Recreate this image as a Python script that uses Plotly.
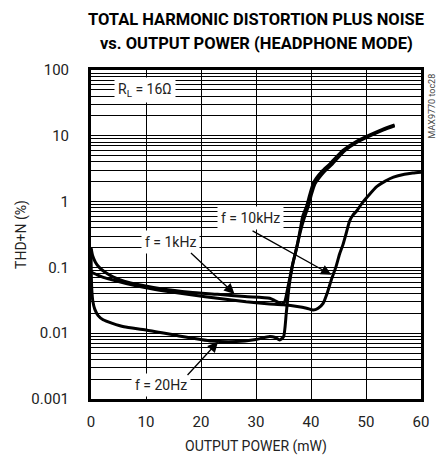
import numpy as np
import plotly.graph_objects as go

# ---- data ----
p_20hz = [0, 0.05, 0.15, 0.35, 0.7, 1.3, 2.2, 3.9, 6, 10, 16, 22, 25, 28, 30, 32.5, 33.5, 34.3, 35.0,
          35.5, 36.0, 36.7, 37.4, 38.1, 38.8, 39.5, 40.1, 40.7, 41.4, 42.4, 43.9, 46.1, 48.3, 51.0, 53.2, 55.2]
thd_20hz = [0.19, 0.08, 0.045, 0.03, 0.023, 0.0185, 0.016, 0.0141, 0.0125, 0.0112, 0.0091, 0.0076, 0.0074,
            0.0076, 0.008, 0.0089, 0.0086, 0.0079, 0.0088,
            0.02, 0.05, 0.115, 0.2, 0.36, 0.57, 0.85, 1.3, 1.85, 2.25, 2.85, 3.75, 5.9, 7.9, 10.2, 12.3, 14.2]

p_1khz = [0, 0.3, 0.8, 1.5, 2.5, 4, 6, 9, 13, 18, 23, 28, 32.5, 33.5, 34.6, 35.2, 35.8, 36.3, 36.7,
          37.2, 37.6, 38.1, 38.5, 39.2, 39.8, 40.4, 41.0, 42.0, 43.5, 45.8, 48.0, 50.7, 53.0, 55.2]
thd_1khz = [0.2, 0.15, 0.12, 0.1, 0.085, 0.072, 0.062, 0.054, 0.047, 0.042, 0.039, 0.036, 0.034, 0.031,
            0.028, 0.03, 0.05, 0.08, 0.115, 0.17, 0.24, 0.4, 0.6, 0.85, 1.3, 1.9, 2.3, 2.9, 3.8, 6.0, 8.0,
            10.3, 12.5, 14.6]

p_10khz = [0, 1, 2, 3.5, 6.4, 10, 14, 18.5, 23, 28.2, 32, 35, 37.5, 39.2, 40.4, 41.3, 42.2, 43.0, 43.7,
           44.5, 45.2, 45.8, 46.4, 47.0, 47.6, 48.3, 49.3, 50.5, 52.0, 53.5, 55.0, 57.0, 58.5, 60.0]
thd_10khz = [0.085, 0.078, 0.072, 0.066, 0.057, 0.049, 0.043, 0.038, 0.034, 0.030, 0.028, 0.027, 0.0255,
             0.024, 0.0225, 0.024, 0.0284, 0.042, 0.065, 0.1, 0.16, 0.22, 0.33, 0.5, 0.62, 0.72, 0.95,
             1.25, 1.7, 2.05, 2.35, 2.6, 2.72, 2.8]

y_tickvals = [0.001, 0.01, 0.1, 1, 10, 100]
y_ticktext = ["0.001", "0.01", "0.1", "1", "10", "100"]
x_tickvals = [0, 10, 20, 30, 40, 50, 60]

FONT = "Roboto, Liberation Sans, sans-serif"
TXT = "#222222"

fig = go.Figure()
for px_, py_ in [(p_10khz, thd_10khz), (p_1khz, thd_1khz), (p_20hz, thd_20hz)]:
    fig.add_trace(go.Scatter(x=px_, y=py_, mode="lines",
                             line=dict(color="black", width=3, shape="spline", smoothing=0.6),
                             showlegend=False, hoverinfo="skip"))

L = np.log10
labels = [
    ("R<sub>L</sub> = 16Ω", 9.9, 1.696),
    ("f = 10kHz", 29.0, -0.254),
    ("f = 1kHz", 14.5, -0.61),
    ("f = 20Hz", 12.75, -2.787),
]
for t, x, ly in labels:
    fig.add_annotation(x=x, y=ly, xref="x", yref="y", text=t, showarrow=False,
                       bgcolor="white", borderpad=3,
                       font=dict(family=FONT, size=14, color=TXT))

arrows = [  # tail (x, y) -> tip (x, y)
    (29.1, 0.37, 43.7, 0.077),
    (17.9, 0.174, 26.1, 0.0395),
    (17.3, 0.0022, 23.1, 0.0074),
]
for ax_, ay_, x, y in arrows:
    fig.add_annotation(x=x, y=L(y), ax=ax_, ay=L(ay_), xref="x", yref="y", axref="x", ayref="y",
                       text="", showarrow=True, arrowhead=2, arrowsize=1.6, arrowwidth=1.3,
                       arrowcolor="black", standoff=0)

fig.add_annotation(x=1.0, y=1.0, xref="paper", yref="paper", xshift=10, yshift=-2,
                   text="MAX9770 toc28", showarrow=False, textangle=-90,
                   xanchor="center", yanchor="top",
                   font=dict(family=FONT, size=9, color="#444444"))

title_lines = ["<b>TOTAL HARMONIC DISTORTION PLUS NOISE</b>", "<b>vs. OUTPUT POWER (HEADPHONE MODE)</b>"]
for t, yy in zip(title_lines, [1.152, 1.082]):
    fig.add_annotation(x=0.5, y=yy, xref="paper", yref="paper", text=t, showarrow=False,
                       xanchor="center", yanchor="middle",
                       font=dict(family=FONT, size=16.5, color="black"))

fig.update_layout(
    width=440, height=459,
    margin=dict(l=91, r=19, t=70, b=60),
    paper_bgcolor="white", plot_bgcolor="white",
    font=dict(family=FONT, size=14, color=TXT),
)
fig.update_xaxes(range=[0, 60], tickvals=x_tickvals, showgrid=True, gridcolor="black", gridwidth=1,
                 showline=True, linecolor="black", linewidth=3, mirror=True, ticks="", zeroline=False,
                 automargin=False,
                 title=dict(text="OUTPUT POWER (mW)", font=dict(family=FONT, size=14, color=TXT), standoff=12),
                 tickfont=dict(family=FONT, size=15, color=TXT), ticklabelstandoff=7)
fig.update_yaxes(type="log", range=[-3, 2], tickvals=y_tickvals, ticktext=y_ticktext,
                 showgrid=True, gridcolor="black", gridwidth=1,
                 minor=dict(dtick="D1", showgrid=True, gridcolor="black", gridwidth=1, ticks=""),
                 showline=True, linecolor="black", linewidth=3, mirror=True, ticks="", zeroline=False,
                 automargin=False,
                 title=dict(text="THD+N (%)", font=dict(family=FONT, size=14, color=TXT), standoff=2),
                 tickfont=dict(family=FONT, size=15, color=TXT), ticklabelstandoff=16)

fig.write_html("out.html", config={"displayModeBar": False},
               post_script="document.body.style.margin='0';")
